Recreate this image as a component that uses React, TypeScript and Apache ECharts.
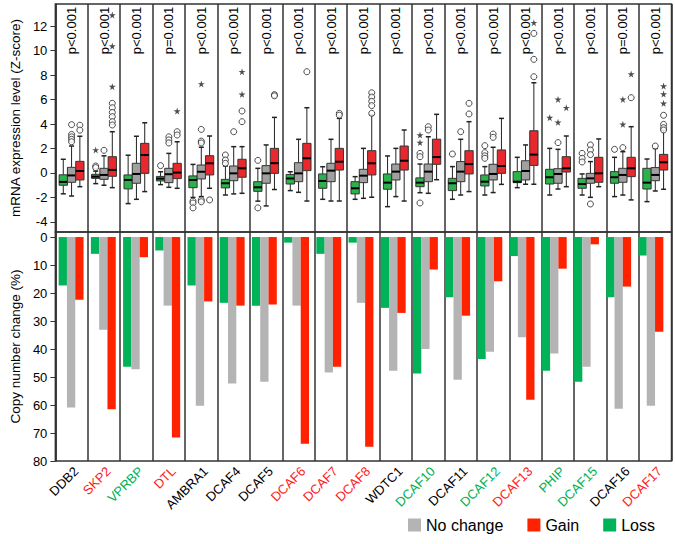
import React, { useEffect, useRef } from 'react';
import * as echarts from 'echarts';

const genes = ['DDB2', 'SKP2', 'VPRBP', 'DTL', 'AMBRA1', 'DCAF4', 'DCAF5', 'DCAF6', 'DCAF7', 'DCAF8', 'WDTC1', 'DCAF10', 'DCAF11', 'DCAF12', 'DCAF13', 'PHIP', 'DCAF15', 'DCAF16', 'DCAF17'];
const geneColors = ['k', 'r', 'g', 'r', 'k', 'k', 'k', 'r', 'r', 'r', 'k', 'g', 'k', 'g', 'r', 'g', 'g', 'k', 'r'];
const pValues = ['p<0.001', 'p<0.001', 'p<0.001', 'p=0.001', 'p<0.001', 'p<0.001', 'p<0.001', 'p<0.001', 'p<0.001', 'p<0.001', 'p<0.001', 'p<0.001', 'p<0.001', 'p<0.001', 'p<0.001', 'p<0.001', 'p<0.001', 'p=0.001', 'p<0.001'];

// box stats: [min, Q1, median, Q3, max]
const lossBox = [
  [-1.7, -1.0, -0.73, -0.15, 1.12], [-0.87, -0.44, -0.3, -0.11, 0.15], [-2.5, -1.3, -0.57, -0.16, 1.45],
  [-0.95, -0.65, -0.46, -0.28, 0.1], [-2.0, -1.2, -0.57, -0.24, 0.7], [-1.8, -1.22, -0.84, -0.52, 0.57],
  [-2.3, -1.5, -1.17, -0.71, 0.38], [-1.44, -0.9, -0.45, -0.12, 0.1], [-2.15, -1.25, -0.65, -0.08, 0.51],
  [-2.15, -1.71, -1.25, -0.71, -0.3], [-2.75, -1.33, -0.79, -0.08, 1.39], [-1.61, -1.12, -0.79, -0.4, 0.73],
  [-2.15, -1.44, -0.84, -0.44, 0.52], [-1.8, -1.06, -0.71, -0.16, 0.52], [-1.2, -0.79, -0.71, 0.11, 1.28],
  [-1.8, -0.9, -0.35, 0.3, 2.01], [-1.8, -1.25, -0.9, -0.44, -0.08], [-1.93, -0.84, -0.35, 0.11, 1.28],
  [-2.34, -1.31, -0.79, 0.38, 1.14],
];
const noChangeBox = [
  [-1.88, -0.76, -0.2, 0.46, 2.2], [-1.0, -0.52, -0.16, 0.38, 1.4], [-2.15, -0.84, -0.08, 0.79, 3.0],
  [-1.17, -0.79, -0.1, 0.38, 1.6], [-1.93, -0.49, 0.1, 0.65, 2.1], [-1.71, -0.63, -0.03, 0.57, 2.15],
  [-2.69, -0.84, -0.03, 0.6, 2.29], [-1.58, -0.71, -0.03, 0.84, 2.75], [-2.29, -0.71, 0.19, 0.79, 2.75],
  [-2.07, -0.79, -0.22, 0.3, 2.01], [-1.93, -0.57, 0.11, 0.73, 2.01], [-1.66, -0.71, 0.11, 0.73, 2.96],
  [-1.8, -0.71, 0.11, 0.93, 2.75], [-1.6, -0.57, -0.08, 0.71, 2.1], [-0.92, -0.57, 0.16, 1.0, 2.29],
  [-1.31, -0.84, -0.08, 0.35, 1.93], [-1.99, -0.84, -0.44, -0.03, 0.93], [-1.8, -0.76, -0.16, 0.38, 1.74],
  [-1.47, -0.63, -0.16, 0.44, 2.0],
];
const gainBox = [
  [-1.12, -0.57, 0.16, 0.95, 3.0], [-1.2, -0.27, 0.25, 1.33, 3.37], [-1.52, -0.03, 1.47, 2.42, 4.1],
  [-1.25, -0.46, 0.03, 0.79, 2.55], [-1.25, -0.16, 0.79, 1.41, 3.02], [-1.66, -0.35, 0.38, 1.12, 2.15],
  [-1.35, -0.03, 0.8, 2.01, 4.54], [-2.29, 0.19, 1.2, 2.42, 5.33], [-2.29, 0.24, 0.92, 2.01, 4.46],
  [-1.98, -0.16, 0.79, 1.82, 4.73], [-2.29, 0.24, 1.0, 2.2, 3.51], [-0.55, 0.71, 1.3, 2.76, 4.79],
  [-1.52, -0.08, 0.73, 1.82, 4.19], [-0.93, -0.03, 0.57, 1.88, 4.46], [-0.92, 0.62, 1.5, 3.45, 7.37],
  [-1.12, 0.08, 0.38, 1.33, 3.02], [-1.12, -0.76, -0.03, 1.28, 2.78], [-2.2, -0.3, 0.38, 1.28, 3.78],
  [-1.33, 0.24, 0.87, 1.52, 3.51],
];

// outliers: [geneIndex, value]
const lossCircles = [[1, 0.57], [1, 0.44], [3, 0.6], [4, -2.3], [4, -2.45], [4, -2.85], [5, 1.47], [5, 1.06], [5, 0.79], [6, 1.03], [6, -2.85], [11, 1.6], [11, 1.33], [11, -2.45], [12, 1.55], [13, 2.23], [13, 1.66], [13, 1.4], [13, 1.2], [16, 1.6], [16, 1.2], [16, 0.9], [17, 1.93]];
const lossStars = [[1, 1.88], [11, 3.1], [11, 2.48], [15, 4.52]];
const noChangeCircles = [[0, 3.95], [0, 3.15], [0, 2.95], [0, 2.75], [0, 2.55], [1, 1.85], [3, 2.95], [3, 2.7], [3, 2.45], [4, 3.56], [4, 2.6], [4, 2.45], [4, -2.2], [4, -2.35], [5, 3.37], [11, 3.78], [11, 3.51], [12, 3.37], [13, 3.18], [13, 2.91], [15, 2.48], [16, 2.29], [16, 1.88], [16, 1.5], [16, -2.53], [17, 2.07], [18, 2.2]];
const noChangeStars = [[4, 7.27], [15, 6.01], [15, 4.14], [17, 6.01], [17, 3.97]];
const gainCircles = [[0, 3.9], [0, 3.5], [1, 5.69], [1, 5.33], [1, 4.95], [1, 4.6], [1, 4.19], [1, 3.92], [3, 3.37], [3, 3.1], [4, -2.2], [5, 5.06], [5, 4.19], [6, 6.4], [6, 6.3], [7, 8.27], [8, 4.87], [8, 4.72], [9, 6.55], [9, 6.2], [9, 5.85], [9, 5.5], [9, 4.87], [12, 5.69], [12, 4.82], [14, 11.4], [14, 9.28], [14, 7.86], [17, 6.15], [18, 4.71], [18, 3.97], [18, 3.7], [18, 3.51]];
const gainStars = [[1, 12.9], [1, 10.37], [1, 7.05], [3, 5.06], [5, 8.27], [5, 6.42], [14, 12.27], [15, 5.33], [17, 8.08], [18, 7.1], [18, 6.45], [18, 5.69]];

// copy number change (%)
const lossPct = [17.3, 6.0, 46.3, 4.8, 17.3, 23.5, 24.5, 2.0, 6.0, 2.0, 25.3, 48.7, 21.5, 43.6, 6.8, 47.8, 51.7, 21.5, 6.6];
const noChangePct = [60.9, 33.1, 47.2, 24.5, 60.3, 52.3, 51.7, 24.5, 48.4, 23.5, 47.8, 40.0, 51.0, 41.0, 35.8, 41.6, 46.3, 61.3, 60.3];
const gainPct = [22.4, 61.5, 7.2, 71.6, 23.0, 24.5, 24.1, 73.8, 46.3, 74.9, 27.1, 11.6, 28.1, 15.8, 58.1, 11.3, 2.6, 17.7, 33.8];

const zTicks = [-4, -2, 0, 2, 4, 6, 8, 10, 12];
const pctTicks = [0, 10, 20, 30, 40, 50, 60, 70, 80];

const FONT = '"Liberation Sans", Arial, sans-serif';
const BOX_W = 8.3;
const boxFill = ['#2bb24c', '#a0a0a0', '#e8282d'];
const barFill = ['#00b358', '#b4b4b4', '#ff2200'];
const labelColor: Record<string, string> = { k: '#000000', r: '#ff1a1a', g: '#00b050' };
const LINE = '#333333';
const STAR = 'path://M50,0 L61,35 L98,35 L68,57 L79,91 L50,70 L21,91 L32,57 L2,35 L39,35 Z';

function buildOption() {
  const boxData: number[][] = [];
  [lossBox, noChangeBox, gainBox].forEach((arr, g) => {
    arr.forEach((s, i) => boxData.push([i, g, ...s]));
  });

  const outlierSeries = (data: number[][], g: number, star: boolean) => ({
    type: 'scatter',
    xAxisIndex: 0,
    yAxisIndex: 0,
    data,
    symbol: star ? STAR : 'circle',
    symbolSize: star ? 7 : 6,
    symbolOffset: [(g - 1) * BOX_W, 0],
    itemStyle: star
      ? { color: '#222222' }
      : { color: '#ffffff', borderColor: '#222222', borderWidth: 1 },
    silent: true,
    z: 4,
  });

  return {
    animation: false,
    textStyle: { fontFamily: FONT },
    grid: [
      { left: 50, top: 4, width: 621.5, height: 228, show: true, borderColor: LINE, borderWidth: 1.5 },
      { left: 50, top: 232, width: 621.5, height: 229, show: true, borderColor: LINE, borderWidth: 1.5 },
      { left: 55, top: 232, width: 612, height: 229, show: false },
    ],
    xAxis: [
      {
        gridIndex: 0, type: 'category', data: genes, boundaryGap: true,
        axisLine: { show: false }, axisTick: { show: false }, axisLabel: { show: false, interval: 0 },
        splitLine: { show: true, interval: 0, lineStyle: { color: LINE, width: 1.5 } },
      },
      {
        gridIndex: 1, type: 'category', data: genes, boundaryGap: true,
        axisLine: { show: false }, axisTick: { show: false }, axisLabel: { show: false, interval: 0 },
        splitLine: { show: true, interval: 0, lineStyle: { color: LINE, width: 1.5 } },
      },
      { gridIndex: 2, type: 'category', data: genes, show: false },
    ],
    yAxis: [
      {
        gridIndex: 0, type: 'value', min: -4.82, max: 13.8,
        axisLine: { show: true, lineStyle: { color: LINE, width: 1.5 } },
        axisTick: { show: true, length: 5, customValues: zTicks, lineStyle: { color: LINE } },
        axisLabel: { customValues: zTicks, fontSize: 13, color: '#000', margin: 8, fontFamily: FONT },
        splitLine: { show: false },
        name: 'mRNA expression level (Z-score)', nameLocation: 'middle', nameGap: 31,
        nameTextStyle: { fontSize: 13.5, color: '#000', fontFamily: FONT },
      },
      {
        gridIndex: 1, type: 'value', min: -1.8, max: 80, inverse: true,
        axisLine: { show: true, lineStyle: { color: LINE, width: 1.5 } },
        axisTick: { show: true, length: 5, customValues: pctTicks, lineStyle: { color: LINE } },
        axisLabel: { customValues: pctTicks, fontSize: 13, color: '#000', margin: 8, fontFamily: FONT },
        splitLine: { show: false },
        name: 'Copy number change (%)', nameLocation: 'middle', nameGap: 31,
        nameTextStyle: { fontSize: 13.5, color: '#000', fontFamily: FONT },
      },
      { gridIndex: 2, type: 'value', min: -1.8, max: 80, inverse: true, show: false },
    ],
    legend: {
      data: ['No change', 'Gain', 'Loss'],
      right: 15, top: 512, icon: 'rect', itemWidth: 13, itemHeight: 13, itemGap: 24,
      textStyle: { fontSize: 16, color: '#000', fontFamily: FONT },
      selectedMode: false,
    },
    series: [
      {
        type: 'custom', xAxisIndex: 0, yAxisIndex: 0, data: boxData, encode: { x: 0, y: 4 }, z: 3,
        renderItem: (params: any, api: any) => {
          const i = api.value(0);
          const g = api.value(1);
          const cx = api.coord([i, 0])[0] + (g - 1) * BOX_W;
          const y = (k: number) => api.coord([i, api.value(k)])[1];
          const yMin = y(2), yQ1 = y(3), yMed = y(4), yQ3 = y(5), yMax = y(6);
          const ln = { stroke: '#222222', lineWidth: 1 };
          return {
            type: 'group',
            children: [
              { type: 'line', shape: { x1: cx, y1: yMax, x2: cx, y2: yQ3 }, style: ln },
              { type: 'line', shape: { x1: cx, y1: yQ1, x2: cx, y2: yMin }, style: ln },
              { type: 'line', shape: { x1: cx - 2.5, y1: yMax, x2: cx + 2.5, y2: yMax }, style: { stroke: '#222', lineWidth: 1.5 } },
              { type: 'line', shape: { x1: cx - 2.5, y1: yMin, x2: cx + 2.5, y2: yMin }, style: { stroke: '#222', lineWidth: 1.5 } },
              { type: 'rect', shape: { x: cx - BOX_W / 2, y: yQ3, width: BOX_W, height: yQ1 - yQ3 }, style: { fill: boxFill[g], stroke: '#333', lineWidth: 1 } },
              { type: 'line', shape: { x1: cx - BOX_W / 2, y1: yMed, x2: cx + BOX_W / 2, y2: yMed }, style: { stroke: '#000', lineWidth: 2 } },
            ],
          };
        },
      },
      outlierSeries(lossCircles, 0, false),
      outlierSeries(noChangeCircles, 1, false),
      outlierSeries(gainCircles, 2, false),
      outlierSeries(lossStars, 0, true),
      outlierSeries(noChangeStars, 1, true),
      outlierSeries(gainStars, 2, true),
      {
        type: 'custom', xAxisIndex: 0, yAxisIndex: 0,
        data: genes.map((_, i) => [i, 11.63]),
        renderItem: (params: any, api: any) => {
          const p = api.coord([api.value(0), api.value(1)]);
          return {
            type: 'text', x: p[0], y: p[1], rotation: Math.PI / 2,
            style: { text: pValues[params.dataIndex], font: `13px ${FONT}`, fill: '#000', align: 'center', verticalAlign: 'middle' },
          };
        },
      },
      {
        type: 'custom', xAxisIndex: 1, yAxisIndex: 1, clip: false,
        data: genes.map((_, i) => [i, 80]),
        renderItem: (params: any, api: any) => {
          const p = api.coord([api.value(0), api.value(1)]);
          const i = params.dataIndex;
          return {
            type: 'text', x: p[0] + 4.5, y: p[1] + 8, rotation: Math.PI / 4,
            style: { text: genes[i], font: `13px ${FONT}`, fill: labelColor[geneColors[i]], align: 'right', verticalAlign: 'middle' },
          };
        },
      },
      { name: 'Loss', type: 'bar', xAxisIndex: 2, yAxisIndex: 2, data: lossPct, barWidth: 8.3, barGap: '0%', itemStyle: { color: barFill[0] } },
      { name: 'No change', type: 'bar', xAxisIndex: 2, yAxisIndex: 2, data: noChangePct, barWidth: 8.3, barGap: '0%', itemStyle: { color: barFill[1] } },
      { name: 'Gain', type: 'bar', xAxisIndex: 2, yAxisIndex: 2, data: gainPct, barWidth: 8.3, barGap: '0%', itemStyle: { color: barFill[2] } },
    ],
  };
}

export default function App() {
  const ref = useRef<HTMLDivElement>(null);
  useEffect(() => {
    if (!ref.current) return;
    const chart = echarts.init(ref.current, null, { renderer: 'svg' });
    chart.setOption(buildOption() as any);
    return () => chart.dispose();
  }, []);
  return <div ref={ref} style={{ position: 'absolute', left: 0, top: 0, width: 675, height: 544, background: '#fff' }} />;
}
